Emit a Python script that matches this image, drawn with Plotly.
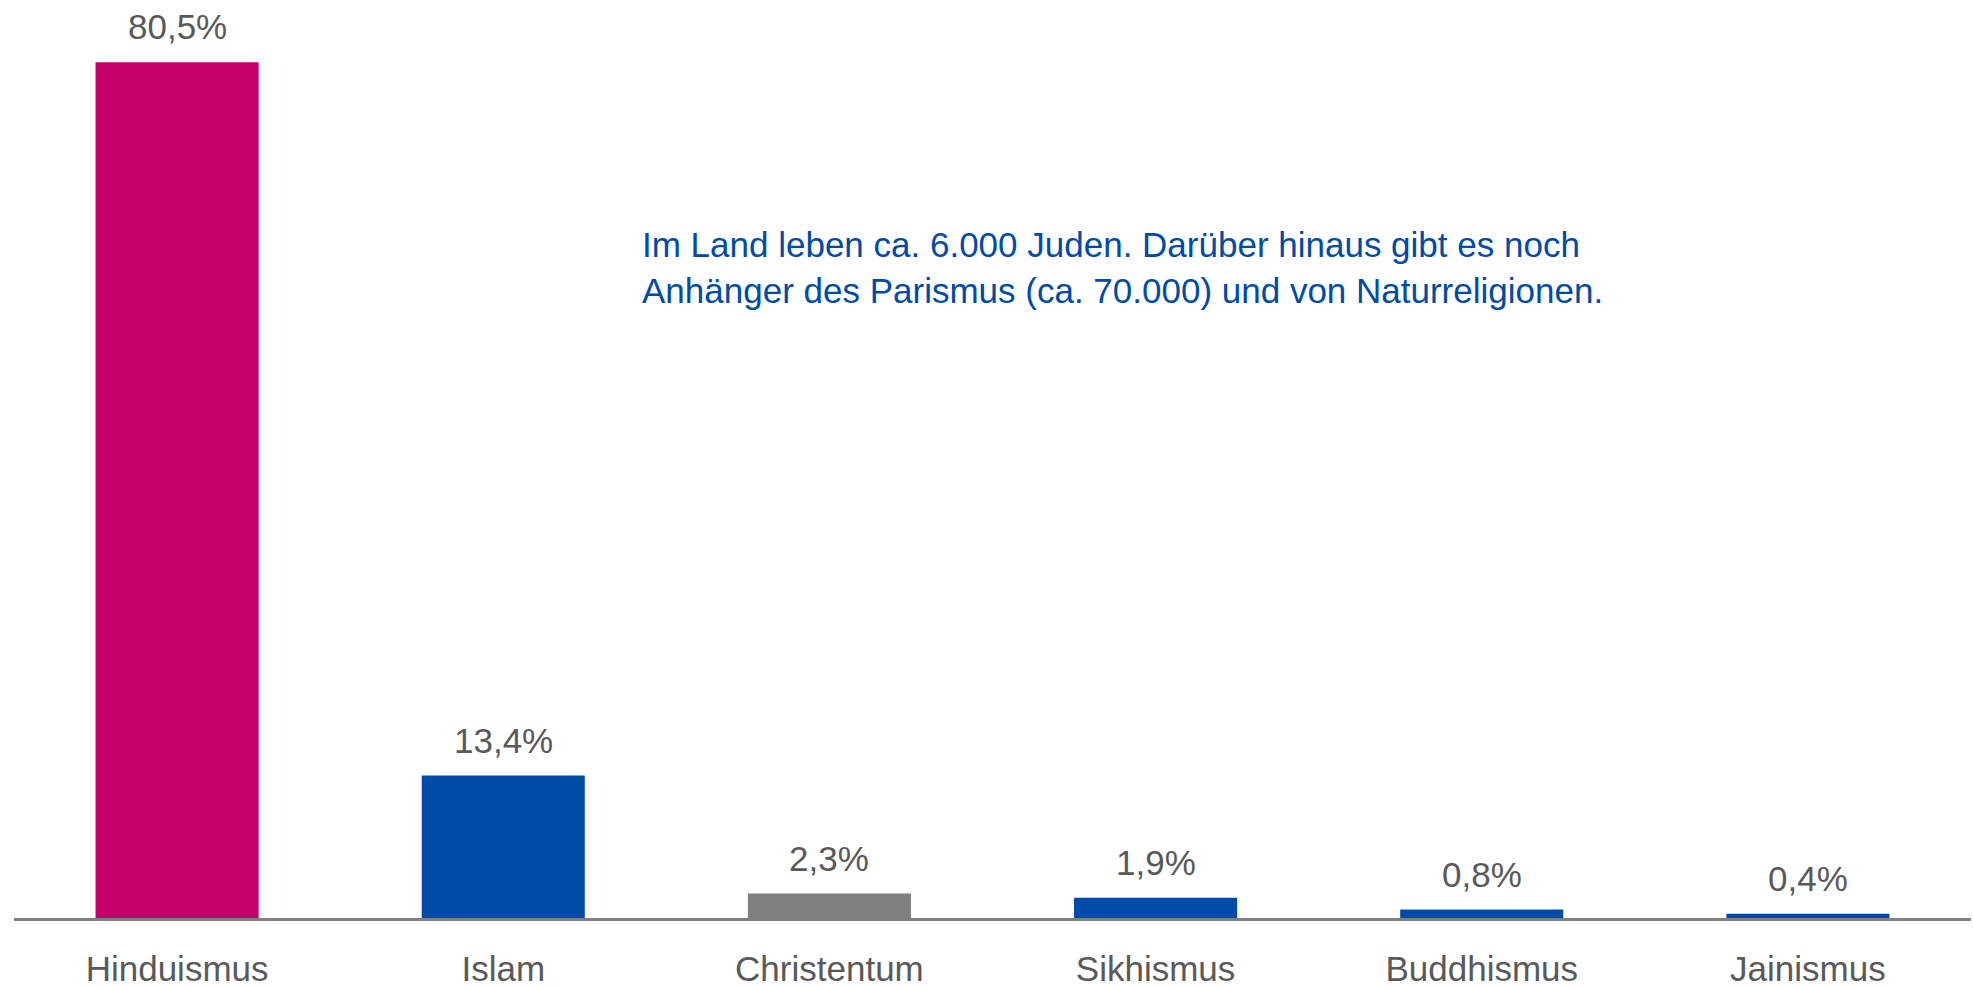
import plotly.graph_objects as go

categories = ["Hinduismus", "Islam", "Christentum", "Sikhismus", "Buddhismus", "Jainismus"]
values = [80.5, 13.4, 2.3, 1.9, 0.8, 0.4]
colors = ["#C5006A", "#004AA8", "#808080", "#004AA8", "#004AA8", "#004AA8"]
labels = [f"{v:.1f}".replace(".", ",") + "%" for v in values]
note = "Im Land leben ca. 6.000 Juden. Darüber hinaus gibt es noch<br>Anhänger des Parismus (ca. 70.000) und von Naturreligionen."

FONT = "Liberation Sans Narrow, Arial Narrow, Liberation Sans, Arial, sans-serif"
SIZE = 35

fig = go.Figure(go.Bar(
    x=categories, y=values, marker=dict(color=colors, line=dict(width=0)),
    hoverinfo="skip",
))

annotations = [
    dict(x=c, y=v, text=t, xref="x", yref="y", xanchor="center", yanchor="bottom",
         yshift=14, showarrow=False, font=dict(family=FONT, size=SIZE, color="#595959"))
    for c, v, t in zip(categories, values, labels)
]
annotations.append(dict(
    text=note, xref="paper", yref="paper", x=0.3199, y=0.709,
    xanchor="left", yanchor="middle", align="left", showarrow=False,
    font=dict(family=FONT, size=SIZE, color="#004AA8"),
))

fig.update_layout(
    width=1973, height=989,
    margin=dict(l=14, r=2, t=0, b=71),
    paper_bgcolor="white", plot_bgcolor="white",
    bargap=0.5, showlegend=False,
    font=dict(family=FONT, size=SIZE, color="#595959"),
    xaxis=dict(showline=True, linecolor="#808080", linewidth=2.5, ticks="",
               ticklabelstandoff=18,
               tickfont=dict(family=FONT, size=SIZE, color="#595959"), showgrid=False),
    yaxis=dict(visible=False, range=[0, 86.35], showgrid=False, zeroline=False),
    annotations=annotations,
)

fig.write_html("out.html")
